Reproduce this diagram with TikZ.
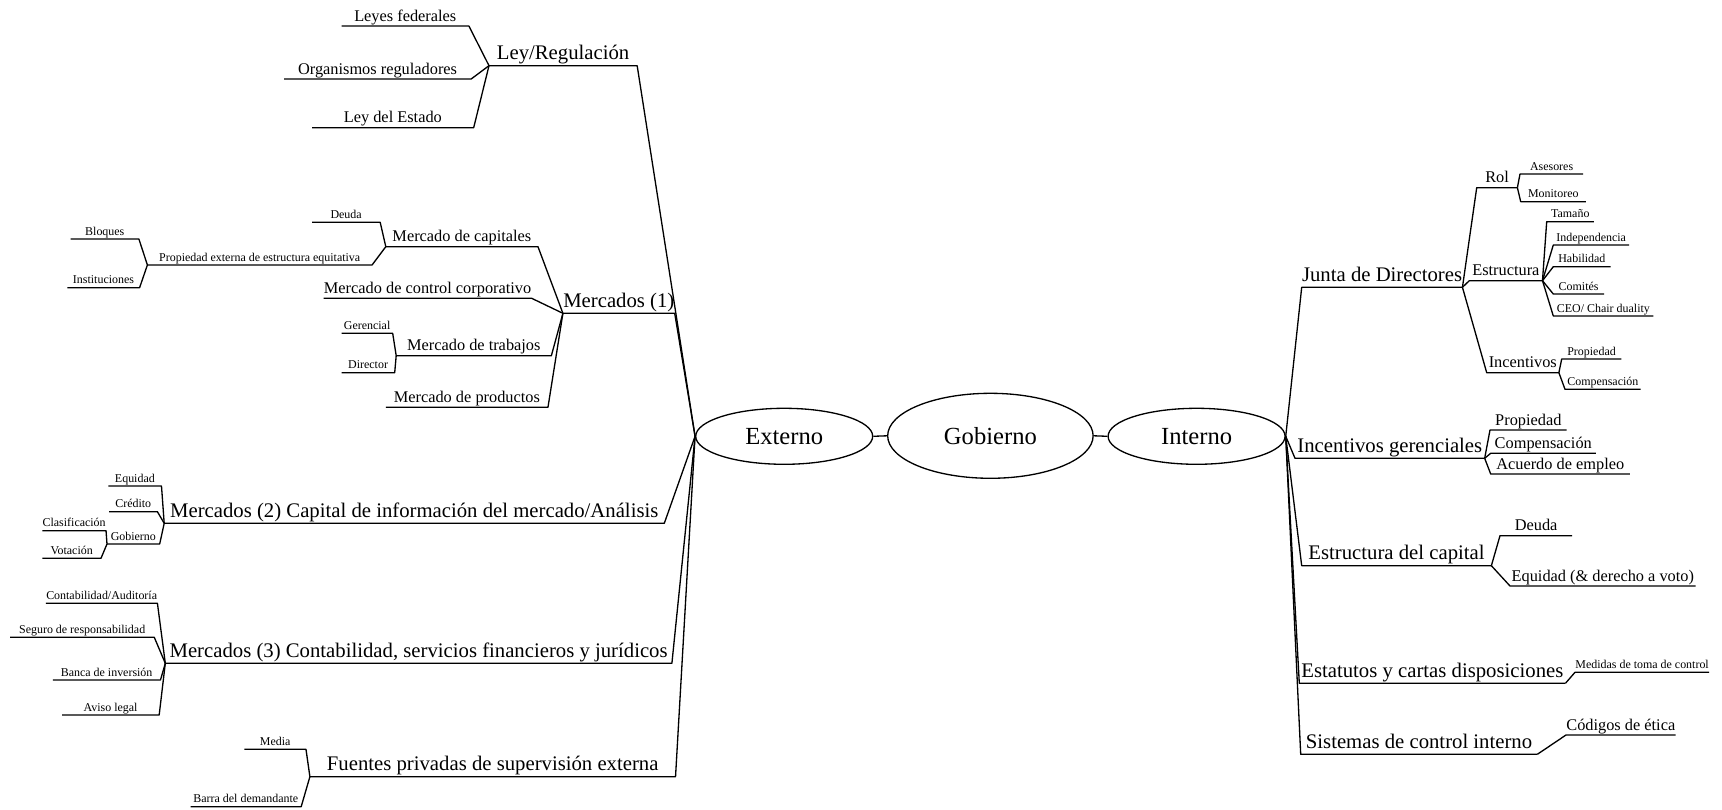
\documentclass[tikz,border=0pt]{standalone}
\usepackage{fontspec}
\setmainfont{Liberation Serif}
\usepackage{tikz}
\usetikzlibrary{shapes.geometric}
\tikzstyle{hub} = [ellipse, draw, line width=0.75pt, inner sep=0pt, font=\fontsize{14}{16}\selectfont]
\tikzstyle{bigtxt} = [anchor=south west, inner xsep=0pt, inner ysep=0.5pt, text height=8.4pt, text depth=2.6pt, font=\fontsize{11.8}{13}\selectfont]
\tikzstyle{midtxt} = [anchor=south west, inner xsep=0pt, inner ysep=0.5pt, text height=6.6pt, text depth=2pt, font=\fontsize{9.3}{11}\selectfont]
\tikzstyle{smalltxt} = [anchor=south west, inner xsep=0pt, inner ysep=0.5pt, text height=4.8pt, text depth=1.5pt, font=\fontsize{6.8}{8}\selectfont]
\tikzstyle{link} = [line width=0.75pt, line join=round]

\begin{document}
\begin{tikzpicture}[x=0.02cm, y=-0.02cm]
    \useasboundingbox (0,0) rectangle (1722,810);

    % centre
    \node[hub, minimum width=3.54cm, minimum height=1.12cm] (ext) at (784.2,436.3) {Externo};
    \node[hub, minimum width=4.11cm, minimum height=1.7cm] (gob) at (990.4,435.8) {Gobierno};
    \node[hub, minimum width=3.54cm, minimum height=1.12cm] (int) at (1196.6,436.3) {Interno};

    % Externo side
    \node[bigtxt, minimum width=2.95cm] (lr) at (489,65.7) {Ley/Regulación};
    \node[midtxt, minimum width=2.53cm] (lf) at (341.7,26) {Leyes federales};
    \node[midtxt, minimum width=3.73cm] (orr) at (284,79) {Organismos reguladores};
    \node[midtxt, minimum width=3.22cm] (le) at (312,127.7) {Ley del Estado};

    \node[bigtxt, minimum width=1.91cm] (m1) at (562.9,313.3) {Mercados (1)};
    \node[midtxt, minimum width=3.03cm] (mc) at (385.8,246.7) {Mercado de capitales};
    \node[smalltxt, minimum width=1.35cm] (deu) at (312,222.3) {Deuda};
    \node[smalltxt, minimum width=4.48cm] (pe) at (147.4,265) {Propiedad externa de estructura equitativa};
    \node[smalltxt, minimum width=1.35cm] (blo) at (70.7,239) {Bloques};
    \node[smalltxt, minimum width=1.43cm] (ins) at (67.4,287.7) {Instituciones};
    \node[midtxt, minimum width=4.11cm] (mcc) at (323.6,298.3) {Mercado de control corporativo};
    \node[midtxt, minimum width=3.09cm] (mt) at (396.2,355.7) {Mercado de trabajos};
    \node[smalltxt, minimum width=1.01cm] (ger) at (341.5,333.3) {Gerencial};
    \node[smalltxt, minimum width=1.05cm] (dir) at (341.5,372.7) {Director};
    \node[midtxt, minimum width=3.23cm] (mp) at (385.8,407.3) {Mercado de productos};

    \node[bigtxt, minimum width=9.99cm] (m2) at (164.2,523.3) {Mercados (2) Capital de información del mercado/Análisis};
    \node[smalltxt, minimum width=1.05cm] (equ) at (108.3,486) {Equidad};
    \node[smalltxt, minimum width=0.95cm] (cre) at (109.2,511.7) {Crédito};
    \node[smalltxt, minimum width=1.04cm] (gbn) at (107,544) {Gobierno};
    \node[smalltxt, minimum width=1.19cm] (cla) at (42.3,530.7) {Clasificación};
    \node[smalltxt, minimum width=1.16cm] (vot) at (42.3,558.3) {Votación};

    \node[bigtxt, minimum width=10.12cm] (m3) at (165.3,663.3) {Mercados (3) Contabilidad, servicios financieros y jurídicos};
    \node[smalltxt, minimum width=2.2cm] (cau) at (45.9,603.3) {Contabilidad/Auditoría};
    \node[smalltxt, minimum width=2.87cm] (seg) at (10.1,637.3) {Seguro de responsabilidad};
    \node[smalltxt, minimum width=2.14cm] (ban) at (52.8,680) {Banca de inversión};
    \node[smalltxt, minimum width=1.93cm] (avi) at (62,715) {Aviso legal};

    \node[bigtxt, minimum width=7.3cm] (fpr) at (309.9,776.7) {Fuentes privadas de supervisión externa};
    \node[smalltxt, minimum width=1.22cm] (med) at (244.3,749.3) {Media};
    \node[smalltxt, minimum width=2.2cm] (bar) at (190.5,806.7) {Barra del demandante};

    % Interno side
    \node[bigtxt, minimum width=3.2cm] (jd) at (1301.7,287.3) {Junta de Directores};
    \node[midtxt, minimum width=0.8cm] (rol) at (1476.7,187.7) {Rol};
    \node[smalltxt, minimum width=1.25cm] (ase) at (1520,174) {Asesores};
    \node[smalltxt, minimum width=1.29cm] (mon) at (1520.7,201.7) {Monitoreo};
    \node[midtxt, minimum width=1.45cm] (est) at (1469.3,280.7) {Estructura};
    \node[smalltxt, minimum width=0.93cm] (tam) at (1546.7,221.7) {Tamaño};
    \node[smalltxt, minimum width=1.5cm] (ind) at (1553.3,245) {Independencia};
    \node[smalltxt, minimum width=1.13cm] (hab) at (1553.3,266.7) {Habilidad};
    \node[smalltxt, minimum width=1.0cm] (com) at (1553.3,294) {Comités};
    \node[smalltxt, minimum width=1.99cm] (ceo) at (1553.3,316) {CEO/ Chair duality};
    \node[midtxt, minimum width=1.43cm] (inc) at (1486.7,372.7) {Incentivos};
    \node[smalltxt, minimum width=1.18cm] (pro) at (1561.7,359) {Propiedad};
    \node[smalltxt, minimum width=1.5cm] (cmp) at (1565,389.3) {Compensación};

    \node[bigtxt, minimum width=3.78cm] (ig) at (1295,458.3) {Incentivos gerenciales};
    \node[midtxt, minimum width=1.52cm] (igp) at (1490,430) {Propiedad};
    \node[midtxt, minimum width=2.09cm] (igc) at (1490.7,453.3) {Compensación};
    \node[midtxt, minimum width=2.77cm] (iga) at (1490.7,474) {Acuerdo de empleo};

    \node[bigtxt, minimum width=3.78cm] (ec) at (1301.7,565.7) {Estructura del capital};
    \node[midtxt, minimum width=1.43cm] (ecd) at (1500,535.7) {Deuda};
    \node[midtxt, minimum width=3.7cm] (ece) at (1510,586) {Equidad (\& derecho a voto)};

    \node[bigtxt, minimum width=5.31cm] (ecs) at (1299.3,683.3) {Estatutos y cartas disposiciones};
    \node[smalltxt, minimum width=2.67cm] (mtc) at (1575,672.3) {Medidas de toma de control};

    \node[bigtxt, minimum width=4.72cm] (sci) at (1300.7,754.3) {Sistemas de control interno};
    \node[midtxt, minimum width=2.11cm] (cod) at (1566,735) {Códigos de ética};

    % Links
    \draw[link] (ext.east) -- (gob.west);
    \draw[link] (gob.east) -- (int.west);

    \draw[link] (lr.south west) -- (lr.south east) -- (ext.west);
    \draw[link] (lf.south west) -- (lf.south east) -- (lr.south west);
    \draw[link] (orr.south west) -- (orr.south east) -- (lr.south west);
    \draw[link] (le.south west) -- (le.south east) -- (lr.south west);

    \draw[link] (m1.south west) -- (m1.south east) -- (ext.west);
    \draw[link] (mc.south west) -- (mc.south east) -- (m1.south west);
    \draw[link] (deu.south west) -- (deu.south east) -- (mc.south west);
    \draw[link] (pe.south west) -- (pe.south east) -- (mc.south west);
    \draw[link] (blo.south west) -- (blo.south east) -- (pe.south west);
    \draw[link] (ins.south west) -- (ins.south east) -- (pe.south west);
    \draw[link] (mcc.south west) -- (mcc.south east) -- (m1.south west);
    \draw[link] (mt.south west) -- (mt.south east) -- (m1.south west);
    \draw[link] (ger.south west) -- (ger.south east) -- (mt.south west);
    \draw[link] (dir.south west) -- (dir.south east) -- (mt.south west);
    \draw[link] (mp.south west) -- (mp.south east) -- (m1.south west);

    \draw[link] (m2.south west) -- (m2.south east) -- (ext.west);
    \draw[link] (equ.south west) -- (equ.south east) -- (m2.south west);
    \draw[link] (cre.south west) -- (cre.south east) -- (m2.south west);
    \draw[link] (gbn.south west) -- (gbn.south east) -- (m2.south west);
    \draw[link] (cla.south west) -- (cla.south east) -- (gbn.south west);
    \draw[link] (vot.south west) -- (vot.south east) -- (gbn.south west);

    \draw[link] (m3.south west) -- (m3.south east) -- (ext.west);
    \draw[link] (cau.south west) -- (cau.south east) -- (m3.south west);
    \draw[link] (seg.south west) -- (seg.south east) -- (m3.south west);
    \draw[link] (ban.south west) -- (ban.south east) -- (m3.south west);
    \draw[link] (avi.south west) -- (avi.south east) -- (m3.south west);

    \draw[link] (fpr.south west) -- (fpr.south east) -- (ext.west);
    \draw[link] (med.south west) -- (med.south east) -- (fpr.south west);
    \draw[link] (bar.south west) -- (bar.south east) -- (fpr.south west);

    \draw[link] (int.east) -- (jd.south west) -- (jd.south east);
    \draw[link] (jd.south east) -- (rol.south west) -- (rol.south east);
    \draw[link] (rol.south east) -- (ase.south west) -- (ase.south east);
    \draw[link] (rol.south east) -- (mon.south west) -- (mon.south east);
    \draw[link] (jd.south east) -- (est.south west) -- (est.south east);
    \draw[link] (est.south east) -- (tam.south west) -- (tam.south east);
    \draw[link] (est.south east) -- (ind.south west) -- (ind.south east);
    \draw[link] (est.south east) -- (hab.south west) -- (hab.south east);
    \draw[link] (est.south east) -- (com.south west) -- (com.south east);
    \draw[link] (est.south east) -- (ceo.south west) -- (ceo.south east);
    \draw[link] (jd.south east) -- (inc.south west) -- (inc.south east);
    \draw[link] (inc.south east) -- (pro.south west) -- (pro.south east);
    \draw[link] (inc.south east) -- (cmp.south west) -- (cmp.south east);

    \draw[link] (int.east) -- (ig.south west) -- (ig.south east);
    \draw[link] (ig.south east) -- (igp.south west) -- (igp.south east);
    \draw[link] (ig.south east) -- (igc.south west) -- (igc.south east);
    \draw[link] (ig.south east) -- (iga.south west) -- (iga.south east);

    \draw[link] (int.east) -- (ec.south west) -- (ec.south east);
    \draw[link] (ec.south east) -- (ecd.south west) -- (ecd.south east);
    \draw[link] (ec.south east) -- (ece.south west) -- (ece.south east);

    \draw[link] (int.east) -- (ecs.south west) -- (ecs.south east);
    \draw[link] (ecs.south east) -- (mtc.south west) -- (mtc.south east);

    \draw[link] (int.east) -- (sci.south west) -- (sci.south east);
    \draw[link] (sci.south east) -- (cod.south west) -- (cod.south east);
\end{tikzpicture}
\end{document}
